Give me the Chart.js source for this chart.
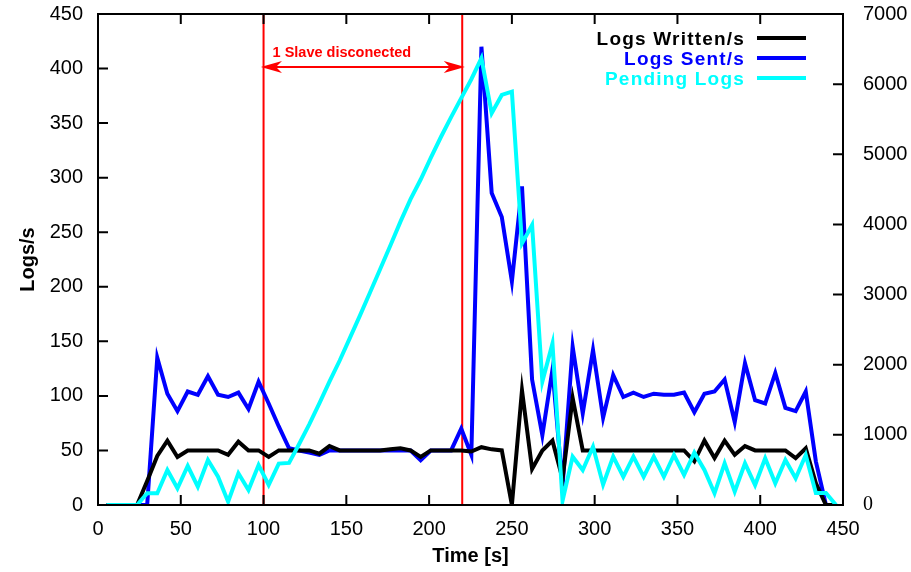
<!DOCTYPE html>
<html>
<head>
<meta charset="utf-8">
<script src="https://cdn.jsdelivr.net/npm/chart.js@4.4.0/dist/chart.umd.min.js"></script>
<style>
  html, body { margin: 0; padding: 0; background: #fff; }
  #wrap { width: 911px; height: 572px; position: relative; }
</style>
</head>
<body>
<div id="wrap"><canvas id="myChart"></canvas></div>
<script>
// sample times (s)
const times = [5.2, 11.3, 17.4, 23.6, 29.7, 35.8, 41.9, 48.0, 54.2, 60.3,
  66.4, 72.5, 78.6, 84.8, 90.9, 97.0, 103.1, 109.2, 115.4, 121.5,
  127.6, 133.7, 139.8, 146.0, 152.1, 158.2, 164.3, 170.4, 176.6, 182.7,
  188.8, 194.9, 201.0, 207.2, 213.3, 219.4, 225.5, 231.6, 237.8, 243.9,
  250.0, 256.1, 262.2, 268.4, 274.5, 280.6, 286.7, 292.8, 299.0, 305.1,
  311.2, 317.3, 323.4, 329.6, 335.7, 341.8, 347.9, 354.0, 360.2, 366.3,
  372.4, 378.5, 384.6, 390.8, 396.9, 403.0, 409.1, 415.2, 421.4, 427.5,
  433.6, 439.7, 445.8];

const logsWritten = [0, 0, 0, 0, 22, 45, 59, 44, 50, 50,
  50, 50, 46, 58, 50, 50, 44, 50, 50, 50,
  50, 47, 54, 50, 50, 50, 50, 50, 51, 52,
  50, 44, 50, 50, 50, 50, 49, 53, 51, 50,
  0, 105, 33, 50, 59, 24, 98, 50, 50, 50,
  50, 50, 50, 50, 50, 50, 50, 50, 40, 59,
  43, 59, 46, 54, 50, 50, 50, 50, 43, 52,
  20, 0, 0];

const logsSent = [0, 0, 0, 0, 0, 135, 102, 86, 104, 101,
  118, 101, 99, 103, 88, 113, 93, 72, 52, 50,
  48, 46, 50, 50, 50, 50, 50, 50, 50, 50,
  50, 41, 50, 50, 50, 70, 46, 420, 286, 264,
  205, 292, 115, 64, 124, 17, 145, 84, 142, 80,
  119, 99, 103, 99, 102, 101, 101, 103, 85, 102,
  104, 115, 76, 130, 96, 93, 121, 89, 86, 104,
  40, 0, 0];

const pendingLogs = [0, 0, 0, 0, 167, 167, 499, 238, 556, 261,
  642, 404, 47, 452, 214, 570, 285, 590, 600, 870,
  1150, 1450, 1760, 2060, 2380, 2700, 3030, 3360, 3700, 4040,
  4360, 4640, 4950, 5250, 5530, 5800, 6070, 6370, 5585, 5846,
  5893, 3730, 3992, 1760, 2300, 60, 689, 499, 831, 290,
  689, 403, 689, 403, 689, 403, 713, 428, 746, 499,
  167, 594, 190, 594, 285, 666, 309, 642, 381, 713,
  170, 170, 0];

const seriesLabels = ['Logs Written/s', 'Logs Sent/s', 'Pending Logs'];
const seriesColors = ['#000000', '#0000ff', '#00ffff'];

const xRange = [0, 450], xStep = 50;
const yRange = [0, 450], yStep = 50;
const y2Range = [0, 7000], y2Step = 1000;

// "1 Slave disconected" window
const outageStart = 100;
const outageEnd = 220;
const outageText = '1 Slave disconected';

const FONT = "'Liberation Sans', Arial, Helvetica, sans-serif";

const toPoints = (vals) => vals.map((v, i) => ({ x: times[i], y: v }));

const lineStyle = {
  borderWidth: 4,
  pointRadius: 0,
  fill: false,
  tension: 0,
  borderJoinStyle: 'miter',
  borderCapStyle: 'butt'
};

const framePlugin = {
  id: 'frame',
  beforeDatasetsDraw(chart) {
    const { ctx, chartArea: a, scales } = chart;
    const x1 = scales.x.getPixelForValue(outageStart);
    const x2 = scales.x.getPixelForValue(outageEnd);
    ctx.save();
    ctx.strokeStyle = '#ff0000';
    ctx.fillStyle = '#ff0000';
    ctx.lineWidth = 2;
    ctx.beginPath();
    ctx.moveTo(x1, a.top); ctx.lineTo(x1, a.bottom);
    ctx.moveTo(x2, a.top); ctx.lineTo(x2, a.bottom);
    ctx.stroke();

    // double arrow
    const ay = 67;
    ctx.beginPath();
    ctx.moveTo(x1, ay); ctx.lineTo(x2, ay);
    ctx.stroke();
    const head = (tip, dir) => {
      ctx.beginPath();
      ctx.moveTo(tip, ay);
      ctx.lineTo(tip + dir * 14, ay - 4);
      ctx.lineTo(tip + dir * 10, ay);
      ctx.lineTo(tip + dir * 14, ay + 4);
      ctx.closePath();
      ctx.fill();
      ctx.stroke();
    };
    head(x1 + 1, 1);
    head(x2 - 1, -1);

    ctx.font = 'bold 14.5px ' + FONT;
    ctx.textAlign = 'left';
    ctx.textBaseline = 'alphabetic';
    ctx.fillText(outageText, x1 + 9, 57);
    ctx.restore();
  },
  afterDraw(chart) {
    const { ctx, chartArea: a, scales } = chart;
    const tl = 10;
    ctx.save();
    ctx.strokeStyle = '#000';
    ctx.lineWidth = 2;
    ctx.beginPath();
    scales.x.ticks.forEach(t => {
      const px = scales.x.getPixelForValue(t.value);
      ctx.moveTo(px, a.bottom); ctx.lineTo(px, a.bottom - tl);
      ctx.moveTo(px, a.top); ctx.lineTo(px, a.top + tl);
    });
    scales.y.ticks.forEach(t => {
      const py = scales.y.getPixelForValue(t.value);
      ctx.moveTo(a.left, py); ctx.lineTo(a.left + tl, py);
    });
    scales.y2.ticks.forEach(t => {
      const py = scales.y2.getPixelForValue(t.value);
      ctx.moveTo(a.right, py); ctx.lineTo(a.right - tl, py);
    });
    ctx.stroke();
    ctx.strokeRect(a.left, a.top, a.right - a.left, a.bottom - a.top);

    // key, top right
    const rows = [38, 58, 78];
    ctx.font = 'bold 19px ' + FONT;
    ctx.letterSpacing = '1.2px';
    ctx.textAlign = 'right';
    ctx.textBaseline = 'alphabetic';
    chart.data.datasets.forEach((ds, i) => {
      const y = rows[i];
      ctx.fillStyle = ds.borderColor;
      ctx.fillText(ds.label, 745, y + 7);
      ctx.strokeStyle = ds.borderColor;
      ctx.lineWidth = 4;
      ctx.beginPath();
      ctx.moveTo(757, y); ctx.lineTo(806, y);
      ctx.stroke();
    });
    ctx.restore();
  }
};

new Chart(document.getElementById('myChart').getContext('2d'), {
  type: 'line',
  data: {
    datasets: [
      { label: seriesLabels[0], data: toPoints(logsWritten), borderColor: seriesColors[0], yAxisID: 'y', order: 1, ...lineStyle },
      { label: seriesLabels[1], data: toPoints(logsSent), borderColor: seriesColors[1], yAxisID: 'y', order: 2, ...lineStyle },
      { label: seriesLabels[2], data: toPoints(pendingLogs), borderColor: seriesColors[2], yAxisID: 'y2', order: 0, ...lineStyle }
    ]
  },
  options: {
    responsive: true,
    maintainAspectRatio: false,
    animation: false,
    layout: { padding: { top: 14, left: 0, right: 0, bottom: 0 } },
    plugins: {
      legend: { display: false },
      tooltip: { enabled: false }
    },
    scales: {
      x: {
        type: 'linear',
        min: xRange[0],
        max: xRange[1],
        grid: { display: false },
        border: { display: false },
        ticks: { stepSize: xStep, color: '#000', padding: 4, maxRotation: 0, font: { family: FONT, size: 20 } },
        title: { display: true, text: 'Time [s]', color: '#000', font: { family: FONT, size: 20, weight: 'bold' }, padding: { top: 0, bottom: 4 } },
        afterFit: (s) => { s.height = 67; s.paddingLeft = 0; s.paddingRight = 0; }
      },
      y: {
        position: 'left',
        min: yRange[0],
        max: yRange[1],
        grid: { display: false },
        border: { display: false },
        ticks: { stepSize: yStep, color: '#000', padding: 7, font: { family: FONT, size: 20 } },
        title: { display: true, text: 'Logs/s', color: '#000', font: { family: FONT, size: 20, weight: 'bold' }, padding: { top: 16, bottom: 0 } },
        afterFit: (s) => { s.width = 98; s.paddingTop = 0; s.paddingBottom = 0; }
      },
      y2: {
        position: 'right',
        min: y2Range[0],
        max: y2Range[1],
        grid: { display: false },
        border: { display: false },
        ticks: {
          stepSize: y2Step, color: '#000', padding: 12,
          callback: (v) => String(v),
          font: (c) => ({ family: c.tick && c.tick.value === 0 ? "'Liberation Serif', serif" : FONT, size: 20 })
        },
        afterFit: (s) => { s.width = 68; s.paddingTop = 0; s.paddingBottom = 0; }
      }
    }
  },
  plugins: [framePlugin]
});
</script>
</body>
</html>
